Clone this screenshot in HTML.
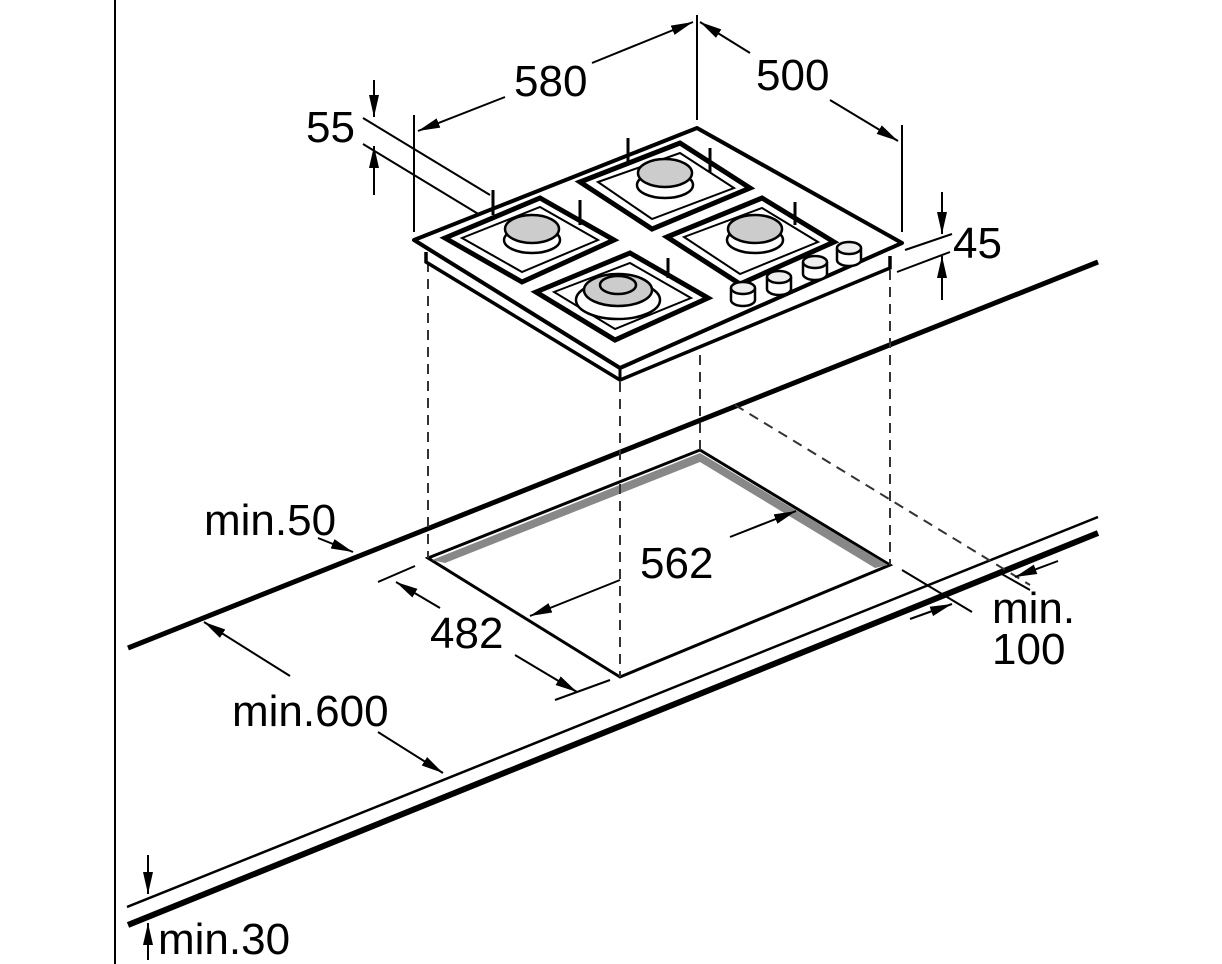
<!DOCTYPE html>
<html><head><meta charset="utf-8"><style>
html,body{margin:0;padding:0;background:#fff;}
svg{display:block}
text{font-family:"Liberation Sans",Arial,sans-serif;font-size:44px;fill:#000}
</style></head><body>
<svg width="1222" height="964" viewBox="0 0 1222 964" xmlns="http://www.w3.org/2000/svg">
<defs>
<marker id="b" viewBox="0 0 22 12" refX="22" refY="6" markerWidth="22" markerHeight="12" orient="auto" markerUnits="userSpaceOnUse">
<path d="M0,1 L22,6 L0,11 Z" fill="#000"/></marker>
</defs>
<g stroke="#000" fill="none">
<line x1="115" y1="0" x2="115" y2="964" stroke-width="2"/>
<line x1="128" y1="648" x2="1098" y2="262" stroke-width="5"/>
<line x1="127" y1="907" x2="1098" y2="517" stroke-width="2.5"/>
<line x1="128" y1="925" x2="1098" y2="533" stroke-width="6"/>
<polygon points="428,558 700,450 890,565 620,677" stroke-width="3"/>
<polygon points="432,560 700,453 700,462 445,563" fill="#888" stroke="none"/>
<polygon points="700,453 888,565 875,568 700,462" fill="#888" stroke="none"/>
<g stroke-dasharray="10,7" stroke-width="2" stroke="#333">
<line x1="428" y1="262" x2="428" y2="558"/>
<line x1="620" y1="382" x2="620" y2="677"/>
<line x1="700" y1="355" x2="700" y2="450"/>
<line x1="890" y1="270" x2="890" y2="565"/>
<line x1="735" y1="405" x2="1030" y2="585"/>
</g>
<polygon points="414,240 697,128 902,243 620,368" fill="#fff" stroke-width="4" stroke-linejoin="round"/>
<path d="M426,252 L426,262 L620,380 L890,268 L890,256" stroke-width="3.5"/>
<line x1="620" y1="368" x2="620" y2="380" stroke-width="3"/>
<g stroke-width="5" fill="#fff">
<polygon points="445,238 540,198 614,240 522,282"/>
<polygon points="580,182 680,143 750,188 652,229"/>
<polygon points="536,292 630,253 708,298 615,340"/>
<polygon points="667,237 762,198 834,242 740,284"/>
</g>
<g stroke-width="2">
<polygon points="462,238 540,207 598,240 522,272"/>
<polygon points="598,182 680,153 734,188 652,219"/>
<polygon points="554,292 630,263 691,298 615,329"/>
<polygon points="684,237 762,208 818,242 740,274"/>
</g>
<g stroke-width="2.5">
<ellipse cx="532" cy="240" rx="28" ry="13" fill="#fff"/>
<ellipse cx="532" cy="229" rx="27" ry="14" fill="#ccc"/>
<ellipse cx="665" cy="185" rx="28" ry="13" fill="#fff"/>
<ellipse cx="665" cy="173" rx="27" ry="14" fill="#ccc"/>
<ellipse cx="755" cy="240" rx="28" ry="13" fill="#fff"/>
<ellipse cx="755" cy="229" rx="27" ry="14" fill="#ccc"/>
<ellipse cx="618" cy="300" rx="42" ry="19" fill="#fff"/>
<ellipse cx="618" cy="290" rx="34" ry="16" fill="#ccc"/>
<ellipse cx="618" cy="285" rx="18" ry="9" fill="#ccc"/>
</g>
<g stroke-width="3">
<line x1="493" y1="190" x2="493" y2="215"/><line x1="580" y1="200" x2="580" y2="225"/>
<line x1="628" y1="138" x2="628" y2="165"/><line x1="710" y1="148" x2="710" y2="172"/>
<line x1="795" y1="202" x2="795" y2="225"/><line x1="668" y1="258" x2="668" y2="278"/>
</g>
<g stroke-width="2.5" fill="#fff">
<path d="M731,288 v12 a12,6 0 0 0 24,0 v-12"/><ellipse cx="743" cy="288" rx="12" ry="6" fill="#eee"/>
<path d="M767,277 v12 a12,6 0 0 0 24,0 v-12"/><ellipse cx="779" cy="277" rx="12" ry="6" fill="#eee"/>
<path d="M803,262 v12 a12,6 0 0 0 24,0 v-12"/><ellipse cx="815" cy="262" rx="12" ry="6" fill="#eee"/>
<path d="M837,248 v12 a12,6 0 0 0 24,0 v-12"/><ellipse cx="849" cy="248" rx="12" ry="6" fill="#eee"/>
</g>
<g stroke-width="2">
<line x1="414" y1="115" x2="414" y2="232"/>
<line x1="697" y1="15" x2="697" y2="120"/>
<line x1="902" y1="125" x2="902" y2="232"/>
<line x1="505" y1="97" x2="418" y2="131" marker-end="url(#b)"/>
<line x1="592" y1="63" x2="693" y2="22" marker-end="url(#b)"/>
<line x1="750" y1="53" x2="700" y2="22" marker-end="url(#b)"/>
<line x1="830" y1="100" x2="898" y2="141" marker-end="url(#b)"/>
<line x1="363" y1="118" x2="490" y2="195"/>
<line x1="363" y1="144" x2="480" y2="215"/>
<line x1="374" y1="80" x2="374" y2="117" marker-end="url(#b)"/>
<line x1="374" y1="195" x2="374" y2="146" marker-end="url(#b)"/>
<line x1="905" y1="250" x2="952" y2="234"/>
<line x1="897" y1="272" x2="950" y2="252"/>
<line x1="942" y1="192" x2="942" y2="234" marker-end="url(#b)"/>
<line x1="942" y1="300" x2="942" y2="256" marker-end="url(#b)"/>
<line x1="318" y1="538" x2="353" y2="552" marker-end="url(#b)"/>
<line x1="378" y1="582" x2="415" y2="566"/>
<line x1="555" y1="700" x2="610" y2="680"/>
<line x1="440" y1="608" x2="396" y2="582" marker-end="url(#b)"/>
<line x1="515" y1="655" x2="577" y2="692" marker-end="url(#b)"/>
<line x1="620" y1="580" x2="530" y2="616" marker-end="url(#b)"/>
<line x1="730" y1="537" x2="796" y2="511" marker-end="url(#b)"/>
<line x1="290" y1="676" x2="204" y2="622" marker-end="url(#b)"/>
<line x1="378" y1="732" x2="443" y2="773" marker-end="url(#b)"/>
<line x1="902" y1="570" x2="972" y2="612"/>
<line x1="1058" y1="561" x2="1015" y2="577" marker-end="url(#b)"/>
<line x1="910" y1="619" x2="952" y2="604" marker-end="url(#b)"/>
<line x1="1000" y1="573" x2="1030" y2="590"/>
<line x1="148" y1="855" x2="148" y2="894" marker-end="url(#b)"/>
<line x1="148" y1="960" x2="148" y2="923" marker-end="url(#b)"/>
</g>
</g>
<text x="514" y="96">580</text>
<text x="756" y="90">500</text>
<text x="306" y="142">55</text>
<text x="953" y="258">45</text>
<text x="204" y="535">min.50</text>
<text x="430" y="648">482</text>
<text x="640" y="578">562</text>
<text x="232" y="726">min.600</text>
<text x="992" y="623">min.</text>
<text x="992" y="664">100</text>
<text x="158" y="954">min.30</text>
</svg>
</body></html>
